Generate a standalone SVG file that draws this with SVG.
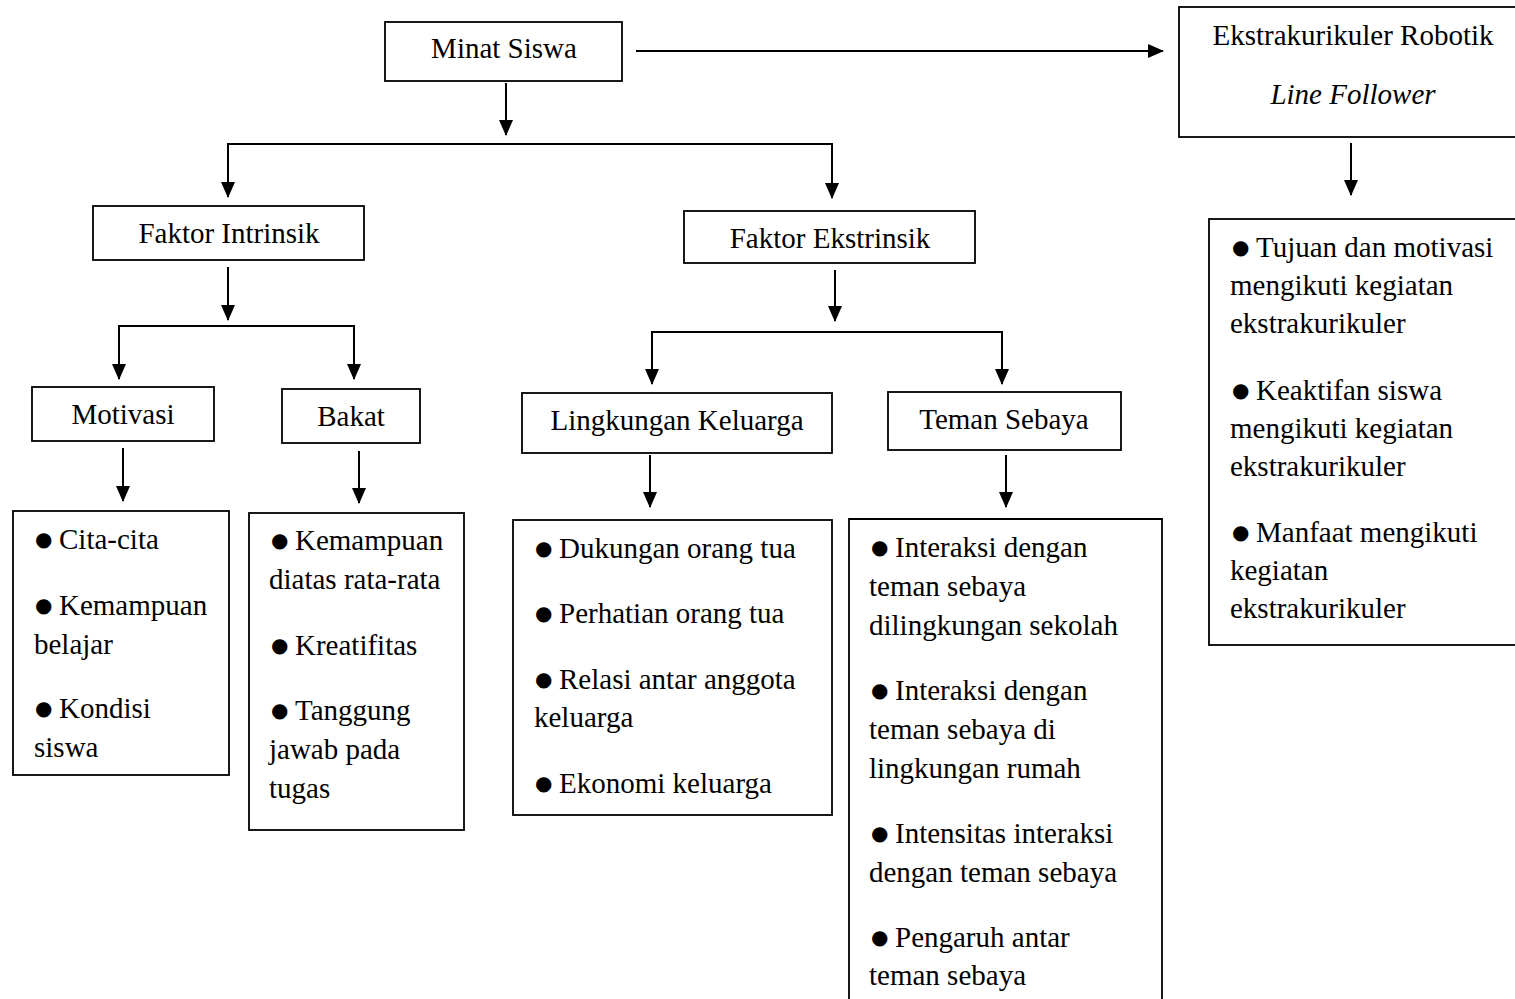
<svg xmlns="http://www.w3.org/2000/svg" width="1515" height="999" viewBox="0 0 1515 999">
<defs>
<marker id="ah" markerUnits="userSpaceOnUse" markerWidth="16" markerHeight="14" refX="15" refY="7" orient="auto">
<path d="M0,0 L16,7 L0,14 z" fill="#000"/>
</marker>
<style>
.box{fill:#fff;stroke:#000;stroke-width:1.8}
.t{font-family:"Liberation Serif","Times New Roman",serif;font-size:29px;fill:#000}
.c{text-anchor:middle}
.i{font-style:italic}
.b{font-family:"DejaVu Sans",sans-serif;font-size:20px}
.ln{fill:none;stroke:#000;stroke-width:2}
</style>
</defs>
<rect width="1515" height="999" fill="#fff"/>
<g id="connectors">
<path class="ln" d="M636,51 H1163" marker-end="url(#ah)"/>
<path class="ln" d="M506,83 V135" marker-end="url(#ah)"/>
<path class="ln" d="M228,144 H832"/>
<path class="ln" d="M228,143 V197" marker-end="url(#ah)"/>
<path class="ln" d="M832,143 V198" marker-end="url(#ah)"/>
<path class="ln" d="M228,267 V320" marker-end="url(#ah)"/>
<path class="ln" d="M119,326 H354"/>
<path class="ln" d="M119,325 V379" marker-end="url(#ah)"/>
<path class="ln" d="M354,325 V379" marker-end="url(#ah)"/>
<path class="ln" d="M123,448 V501" marker-end="url(#ah)"/>
<path class="ln" d="M359,451 V503" marker-end="url(#ah)"/>
<path class="ln" d="M835,270 V321" marker-end="url(#ah)"/>
<path class="ln" d="M652,332 H1002"/>
<path class="ln" d="M652,331 V384" marker-end="url(#ah)"/>
<path class="ln" d="M1002,331 V384" marker-end="url(#ah)"/>
<path class="ln" d="M650,455 V507" marker-end="url(#ah)"/>
<path class="ln" d="M1006,455 V507" marker-end="url(#ah)"/>
<path class="ln" d="M1351,143 V195" marker-end="url(#ah)"/>
</g>
<g id="minat">
<rect class="box" x="385" y="22" width="237" height="59"/>
<text class="t c" x="504" y="58">Minat Siswa</text>
</g>
<g id="ekstra">
<rect class="box" x="1179" y="7" width="350" height="130"/>
<text class="t c" x="1353" y="45">Ekstrakurikuler Robotik</text>
<text class="t c i" x="1353" y="104">Line Follower</text>
</g>
<g id="ekstra-list">
<rect class="box" x="1209" y="219" width="320" height="426"/>
<text class="t" x="1232" y="257"><tspan class="b" dy="-3">●</tspan><tspan x="1256" dy="3">Tujuan dan motivasi</tspan></text>
<text class="t" x="1230" y="295">mengikuti kegiatan</text>
<text class="t" x="1230" y="333">ekstrakurikuler</text>
<text class="t" x="1232" y="400"><tspan class="b" dy="-3">●</tspan><tspan x="1256" dy="3">Keaktifan siswa</tspan></text>
<text class="t" x="1230" y="438">mengikuti kegiatan</text>
<text class="t" x="1230" y="476">ekstrakurikuler</text>
<text class="t" x="1232" y="542"><tspan class="b" dy="-3">●</tspan><tspan x="1256" dy="3">Manfaat mengikuti</tspan></text>
<text class="t" x="1230" y="580">kegiatan</text>
<text class="t" x="1230" y="618">ekstrakurikuler</text>
</g>
<g id="intrinsik">
<rect class="box" x="93" y="206" width="271" height="54"/>
<text class="t c" x="229" y="243">Faktor Intrinsik</text>
</g>
<g id="ekstrinsik">
<rect class="box" x="684" y="211" width="291" height="52"/>
<text class="t c" x="830" y="248">Faktor Ekstrinsik</text>
</g>
<g id="motivasi">
<rect class="box" x="32" y="387" width="182" height="54"/>
<text class="t c" x="123" y="424">Motivasi</text>
</g>
<g id="bakat">
<rect class="box" x="282" y="389" width="138" height="54"/>
<text class="t c" x="351" y="426">Bakat</text>
</g>
<g id="lingkungan">
<rect class="box" x="522" y="393" width="310" height="60"/>
<text class="t c" x="677" y="430">Lingkungan Keluarga</text>
</g>
<g id="teman">
<rect class="box" x="888" y="392" width="233" height="58"/>
<text class="t c" x="1004" y="429">Teman Sebaya</text>
</g>
<g id="motivasi-list">
<rect class="box" x="13" y="511" width="216" height="264"/>
<text class="t" x="35" y="549"><tspan class="b" dy="-3">●</tspan><tspan x="59" dy="3">Cita-cita</tspan></text>
<text class="t" x="35" y="615"><tspan class="b" dy="-3">●</tspan><tspan x="59" dy="3">Kemampuan</tspan></text>
<text class="t" x="34" y="654">belajar</text>
<text class="t" x="35" y="718"><tspan class="b" dy="-3">●</tspan><tspan x="59" dy="3">Kondisi</tspan></text>
<text class="t" x="34" y="757">siswa</text>
</g>
<g id="bakat-list">
<rect class="box" x="249" y="513" width="215" height="317"/>
<text class="t" x="271" y="550"><tspan class="b" dy="-3">●</tspan><tspan x="295" dy="3">Kemampuan</tspan></text>
<text class="t" x="269" y="589">diatas rata-rata</text>
<text class="t" x="271" y="655"><tspan class="b" dy="-3">●</tspan><tspan x="295" dy="3">Kreatifitas</tspan></text>
<text class="t" x="271" y="720"><tspan class="b" dy="-3">●</tspan><tspan x="295" dy="3">Tanggung</tspan></text>
<text class="t" x="269" y="759">jawab pada</text>
<text class="t" x="269" y="798">tugas</text>
</g>
<g id="lingkungan-list">
<rect class="box" x="513" y="520" width="319" height="295"/>
<text class="t" x="535" y="558"><tspan class="b" dy="-3">●</tspan><tspan x="559" dy="3">Dukungan orang tua</tspan></text>
<text class="t" x="535" y="623"><tspan class="b" dy="-3">●</tspan><tspan x="559" dy="3">Perhatian orang tua</tspan></text>
<text class="t" x="535" y="689"><tspan class="b" dy="-3">●</tspan><tspan x="559" dy="3">Relasi antar anggota</tspan></text>
<text class="t" x="534" y="727">keluarga</text>
<text class="t" x="535" y="793"><tspan class="b" dy="-3">●</tspan><tspan x="559" dy="3">Ekonomi keluarga</tspan></text>
</g>
<g id="teman-list">
<path class="box" d="M849,1002 V519 H1162 V1002"/>
<text class="t" x="871" y="557"><tspan class="b" dy="-3">●</tspan><tspan x="895" dy="3">Interaksi dengan</tspan></text>
<text class="t" x="869" y="596">teman sebaya</text>
<text class="t" x="869" y="635">dilingkungan sekolah</text>
<text class="t" x="871" y="700"><tspan class="b" dy="-3">●</tspan><tspan x="895" dy="3">Interaksi dengan</tspan></text>
<text class="t" x="869" y="739">teman sebaya di</text>
<text class="t" x="869" y="778">lingkungan rumah</text>
<text class="t" x="871" y="843"><tspan class="b" dy="-3">●</tspan><tspan x="895" dy="3">Intensitas interaksi</tspan></text>
<text class="t" x="869" y="882">dengan teman sebaya</text>
<text class="t" x="871" y="947"><tspan class="b" dy="-3">●</tspan><tspan x="895" dy="3">Pengaruh antar</tspan></text>
<text class="t" x="869" y="985">teman sebaya</text>
</g>
</svg>
